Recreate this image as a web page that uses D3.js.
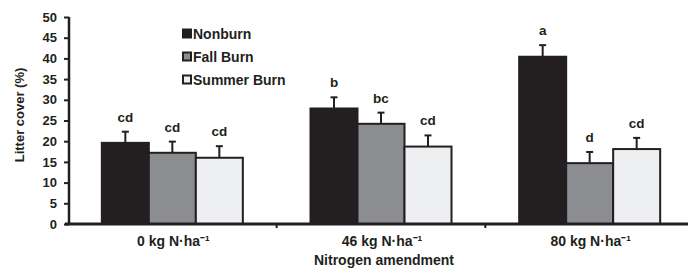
<!DOCTYPE html>
<html><head><meta charset="utf-8">
<script src="https://cdn.jsdelivr.net/npm/d3@7"></script>
<style>body{margin:0;background:#fff}svg{display:block;font-family:"Liberation Sans",Arial,sans-serif;font-weight:bold}</style>
</head><body><svg id="c" width="688" height="269"></svg>
<script>
const categories = ["0 kg N·ha⁻¹", "46 kg N·ha⁻¹", "80 kg N·ha⁻¹"];
const seriesNames = ["Nonburn", "Fall Burn", "Summer Burn"];
const nonburn = [19.6, 27.9, 40.4];
const fallBurn = [17.2, 24.2, 14.7];
const summerBurn = [16.0, 18.7, 18.1];
const nonburnErr = [2.7, 2.7, 2.8];
const fallBurnErr = [2.7, 2.7, 2.7];
const summerBurnErr = [2.8, 2.7, 2.7];
const nonburnLetters = ["cd", "b", "a"];
const fallBurnLetters = ["cd", "bc", "d"];
const summerBurnLetters = ["cd", "cd", "cd"];
const yTicks = [0,5,10,15,20,25,30,35,40,45,50];

const colors = ["#231f20", "#8c8d90", "#eeeff0"];
const values = [nonburn, fallBurn, summerBurn];
const errs = [nonburnErr, fallBurnErr, summerBurnErr];
const letters = [nonburnLetters, fallBurnLetters, summerBurnLetters];

const svg = d3.select("#c");
const x0 = 69, x1 = 695, yTop = 17, yBot = 224;
const x = d3.scaleBand().domain(categories).range([x0, x1]).paddingInner(0).paddingOuter(0);
const y = d3.scaleLinear().domain([0, 50]).range([yBot, yTop]);
const barW = 47;

categories.forEach((c, ci) => {
  const cx = x(c) + x.bandwidth() / 2 - 1;
  values.forEach((vals, si) => {
    const bx = cx - 1.5 * barW + si * barW;
    const v = vals[ci], e = errs[si][ci];
    const mid = bx + barW / 2;
    svg.append("line").attr("x1", mid).attr("x2", mid).attr("y1", y(v)).attr("y2", y(v + e))
      .attr("stroke", "#231f20").attr("stroke-width", 2);
    svg.append("line").attr("x1", mid - 3.5).attr("x2", mid + 3.5).attr("y1", y(v + e)).attr("y2", y(v + e))
      .attr("stroke", "#231f20").attr("stroke-width", 2);
    svg.append("rect").attr("x", bx).attr("y", y(v)).attr("width", barW).attr("height", yBot - y(v))
      .attr("fill", colors[si]).attr("stroke", "#231f20").attr("stroke-width", 2);
    svg.append("text").attr("x", mid).attr("y", y(v + e) - 10).attr("text-anchor", "middle")
      .attr("font-size", 13.5).attr("fill", "#231f20").text(letters[si][ci]);
  });
});

const yAxis = d3.axisLeft(y).tickValues(yTicks).tickSize(5).tickPadding(7);
const gy = svg.append("g").attr("transform", `translate(${x0},0)`).call(yAxis);
gy.select(".domain").attr("stroke", "#231f20").attr("stroke-width", 2.5).attr("d", `M0,${yTop}V${yBot + 1}`);
gy.selectAll(".tick line").attr("stroke", "#231f20").attr("stroke-width", 2);
gy.selectAll(".tick text").attr("font-size", 13).attr("font-weight", "bold").attr("fill", "#231f20")
  .attr("font-family", "Liberation Sans, Arial, sans-serif");

const xAxis = d3.axisBottom(x).tickSize(0).tickPadding(12);
const gx = svg.append("g").attr("transform", `translate(0,${yBot})`).call(xAxis);
gx.select(".domain").attr("stroke", "#231f20").attr("stroke-width", 3).attr("d", `M${x0 - 4},0H688`);
gx.selectAll(".tick text").attr("font-size", 14).attr("font-weight", "bold").attr("fill", "#231f20")
  .attr("font-family", "Liberation Sans, Arial, sans-serif");
categories.slice(1).forEach(c => {
  svg.append("line").attr("x1", x(c) - 1).attr("x2", x(c) - 1).attr("y1", yBot).attr("y2", yBot + 4)
    .attr("stroke", "#231f20").attr("stroke-width", 2);
});

svg.append("text").attr("transform", "translate(24,115) rotate(-90)").attr("text-anchor", "middle")
  .attr("font-size", 13).attr("fill", "#231f20").text("Litter cover (%)");
svg.append("text").attr("x", 384).attr("y", 265).attr("text-anchor", "middle")
  .attr("font-size", 14).attr("fill", "#231f20").text("Nitrogen amendment");

seriesNames.forEach((n, i) => {
  const ly = 33.5 + i * 23;
  svg.append("rect").attr("x", 183).attr("y", ly - 4).attr("width", 8).attr("height", 8)
    .attr("fill", colors[i]).attr("stroke", "#231f20").attr("stroke-width", 2);
  svg.append("text").attr("x", 193).attr("y", ly + 5).attr("font-size", 14).attr("fill", "#231f20").text(n);
});
</script></body></html>
